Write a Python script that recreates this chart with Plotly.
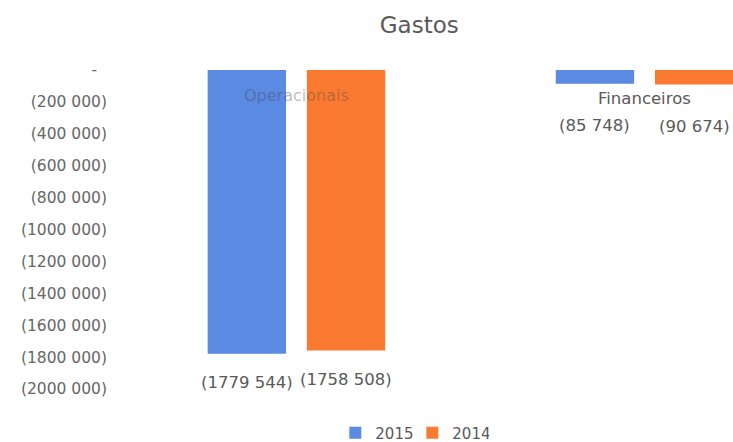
import plotly.graph_objects as go

# Expense data (values are negative: costs)
categories = ["Operacionais", "Financeiros"]
years = ["2015", "2014"]
gastos_2015 = [-1779544, -85748]
gastos_2014 = [-1758508, -90674]
tick_values = [0, -200000, -400000, -600000, -800000, -1000000,
               -1200000, -1400000, -1600000, -1800000, -2000000]

colors = {"2015": "#5B8AE3", "2014": "#FA7A32"}
FONT = "DejaVu Sans"
GREY = "#595959"
BARGAP = 0.43
GROUPGAP = 0.21


def fmt(v):
    """Accounting style: negatives in parentheses, zero as a padded dash."""
    a = abs(int(v))
    if a == 0:
        return "-\u00a0\u00a0"
    s = f"{a // 1000} {a % 1000:03d}" if a >= 1000 else str(a)
    return f"({s})" if v < 0 else s


x_pos = list(range(len(categories)))
series = {"2015": gastos_2015, "2014": gastos_2014}

fig = go.Figure()
for yr in years:
    fig.add_trace(go.Bar(
        x=x_pos, y=series[yr], name=yr,
        marker=dict(color=colors[yr], line=dict(width=0)),
    ))

# value labels below each bar end
slot = (1 - BARGAP) / len(years)
offsets = {yr: (k - (len(years) - 1) / 2) * slot for k, yr in enumerate(years)}
label_shift = {0: -29, 1: -42}
for yr in years:
    for i, v in enumerate(series[yr]):
        fig.add_annotation(
            x=x_pos[i] + offsets[yr], y=v, text=fmt(v), showarrow=False,
            yshift=label_shift[i], font=dict(family=FONT, size=16.5, color=GREY),
        )

# category labels sitting just under the zero line
cat_style = {0: ("rgba(60,60,60,0.35)", -25, 16), 1: (GREY, -28, 16.5)}
for i, c in enumerate(categories):
    col, sh, sz = cat_style[i]
    fig.add_annotation(
        x=x_pos[i], y=0, text=c, showarrow=False, yshift=sh,
        font=dict(family=FONT, size=sz, color=col),
    )

fig.update_layout(
    width=733, height=442,
    margin=dict(l=113, r=0, t=70, b=53),
    paper_bgcolor="white", plot_bgcolor="white",
    barmode="group", bargap=BARGAP, bargroupgap=GROUPGAP,
    title=dict(text="Gastos", x=0.572, xref="container", xanchor="center",
               y=1 - 25 / 442, yref="container", yanchor="middle",
               font=dict(family=FONT, size=23, color=GREY)),
    xaxis=dict(range=[-0.527, 1.254], showticklabels=False, showgrid=False,
               zeroline=False, showline=False, ticks=""),
    yaxis=dict(range=[-2000000, 0], tickvals=tick_values,
               ticktext=[fmt(v) for v in tick_values],
               ticklabelstandoff=5,
               showgrid=False, zeroline=False, showline=False, ticks="",
               tickfont=dict(family=FONT, size=15.5, color="#666666")),
    legend=dict(orientation="h", x=0.5625, xref="container", xanchor="center",
                y=9 / 442, yref="container", yanchor="middle",
                itemwidth=30, entrywidth=32,
                font=dict(family=FONT, size=15, color=GREY)),
    showlegend=True,
)

fig.write_html("out.html")
